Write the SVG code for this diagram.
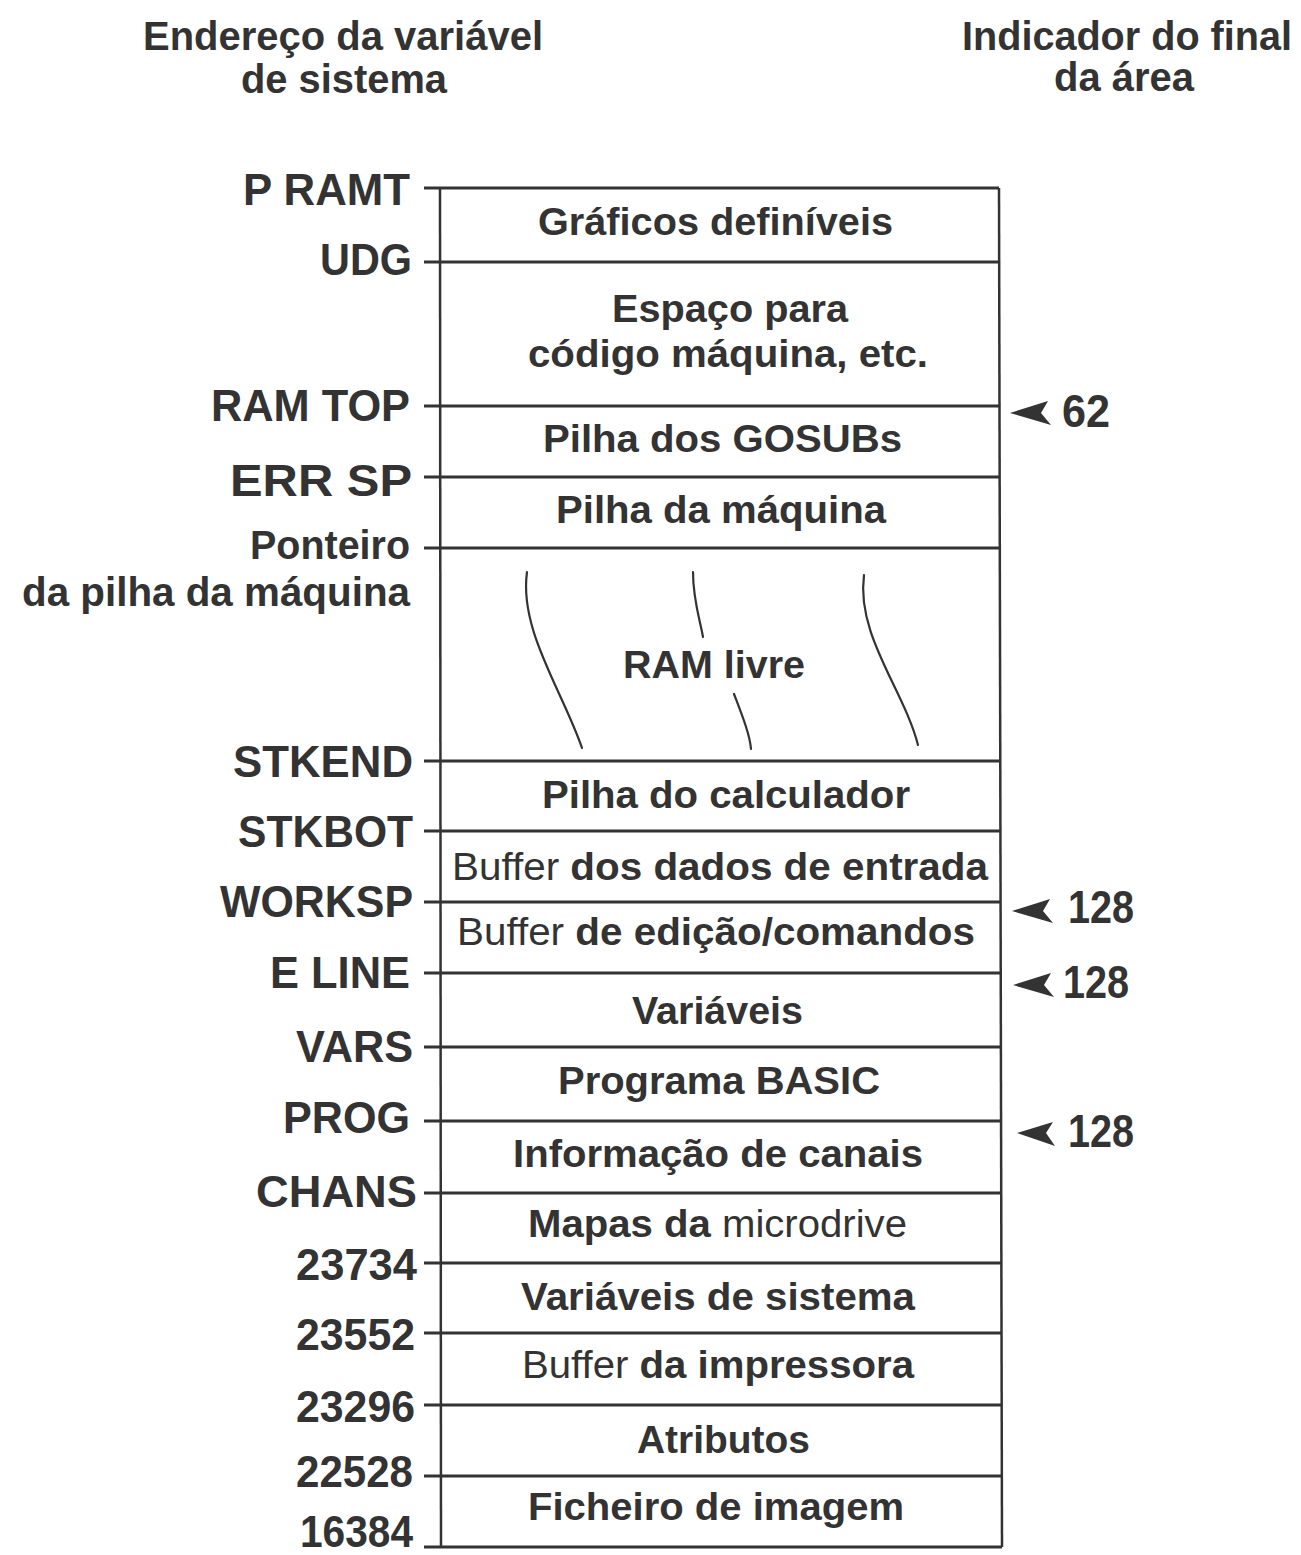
<svg xmlns="http://www.w3.org/2000/svg" width="1301" height="1555" viewBox="0 0 1301 1555">
<style>
  text { font-family: "Liberation Sans", Arial, sans-serif; fill: #333; font-weight: bold; }
  .hdr { font-size: 40px; }
  .lbl { font-size: 45px; }
  .sub { font-size: 41px; }
  .box { font-size: 38px; }
  .reg { font-weight: normal; }
  .num { font-size: 46px; }
  .hl { stroke: #333; stroke-width: 3; fill: none; }
  .vl { stroke: #333; stroke-width: 2.5; fill: none; }
  .wave { stroke: #333; stroke-width: 2.2; fill: none; stroke-linecap: round; }
  .arr { fill: #333; }
</style>
<defs>
  <path id="ah" d="M0,0 L38,-12 L31,0 L41,12 Z"/>
  <path id="ah2" d="M0,0 L36,-11 L29,0 L38,13 Z"/>
</defs>
<rect width="1301" height="1555" fill="#fff"/>

<g id="headers">
  <text class="hdr" x="143" y="50" textLength="400" lengthAdjust="spacingAndGlyphs">Endereço da variável</text>
  <text class="hdr" x="241" y="93" textLength="206" lengthAdjust="spacingAndGlyphs">de sistema</text>
  <text class="hdr" x="962" y="50" textLength="330" lengthAdjust="spacingAndGlyphs">Indicador do final</text>
  <text class="hdr" x="1054" y="91" textLength="140" lengthAdjust="spacingAndGlyphs">da área</text>
</g>

<g id="frame">
  <line class="vl" x1="440" y1="188" x2="441" y2="1547"/>
  <line class="vl" x1="999" y1="188" x2="1002" y2="1547"/>
</g>

<g id="dividers">
  <line class="hl" x1="424" y1="188" x2="999" y2="188"/>
  <line class="hl" x1="424" y1="262" x2="999" y2="262"/>
  <line class="hl" x1="424" y1="406" x2="1000" y2="406"/>
  <line class="hl" x1="424" y1="477" x2="1000" y2="477"/>
  <line class="hl" x1="424" y1="548" x2="1000" y2="548"/>
  <line class="hl" x1="424" y1="761" x2="1000" y2="761"/>
  <line class="hl" x1="424" y1="831" x2="1000" y2="831"/>
  <line class="hl" x1="424" y1="902" x2="1001" y2="902"/>
  <line class="hl" x1="424" y1="973" x2="1001" y2="973"/>
  <line class="hl" x1="424" y1="1047" x2="1001" y2="1047"/>
  <line class="hl" x1="424" y1="1121" x2="1001" y2="1121"/>
  <line class="hl" x1="424" y1="1193" x2="1001" y2="1193"/>
  <line class="hl" x1="424" y1="1263" x2="1002" y2="1263"/>
  <line class="hl" x1="424" y1="1333" x2="1002" y2="1333"/>
  <line class="hl" x1="424" y1="1405" x2="1002" y2="1405"/>
  <line class="hl" x1="424" y1="1476" x2="1002" y2="1476"/>
  <line class="hl" x1="424" y1="1547" x2="1002" y2="1547"/>
</g>

<g id="address-labels">
  <text class="lbl" x="243" y="205" textLength="167" lengthAdjust="spacingAndGlyphs">P RAMT</text>
  <text class="lbl" x="320" y="275" textLength="92" lengthAdjust="spacingAndGlyphs">UDG</text>
  <text class="lbl" x="211" y="421" textLength="199" lengthAdjust="spacingAndGlyphs">RAM TOP</text>
  <text class="lbl" x="230" y="496" textLength="182" lengthAdjust="spacingAndGlyphs">ERR SP</text>
  <text class="sub" x="250" y="559" textLength="160" lengthAdjust="spacingAndGlyphs">Ponteiro</text>
  <text class="sub" x="22" y="606" textLength="388" lengthAdjust="spacingAndGlyphs">da pilha da máquina</text>
  <text class="lbl" x="233" y="777" textLength="180" lengthAdjust="spacingAndGlyphs">STKEND</text>
  <text class="lbl" x="238" y="847" textLength="175" lengthAdjust="spacingAndGlyphs">STKBOT</text>
  <text class="lbl" x="220" y="917" textLength="193" lengthAdjust="spacingAndGlyphs">WORKSP</text>
  <text class="lbl" x="270" y="988" textLength="140" lengthAdjust="spacingAndGlyphs">E LINE</text>
  <text class="lbl" x="296" y="1062" textLength="117" lengthAdjust="spacingAndGlyphs">VARS</text>
  <text class="lbl" x="283" y="1133" textLength="127" lengthAdjust="spacingAndGlyphs">PROG</text>
  <text class="lbl" x="256" y="1207" textLength="161" lengthAdjust="spacingAndGlyphs">CHANS</text>
  <text class="lbl" x="296" y="1280" textLength="121" lengthAdjust="spacingAndGlyphs">23734</text>
  <text class="lbl" x="296" y="1350" textLength="119" lengthAdjust="spacingAndGlyphs">23552</text>
  <text class="lbl" x="296" y="1422" textLength="119" lengthAdjust="spacingAndGlyphs">23296</text>
  <text class="lbl" x="296" y="1487" textLength="117" lengthAdjust="spacingAndGlyphs">22528</text>
  <text class="lbl" x="300" y="1547" textLength="113" lengthAdjust="spacingAndGlyphs">16384</text>
</g>

<g id="area-udg"><text class="box" x="538" y="235" textLength="355" lengthAdjust="spacingAndGlyphs">Gráficos definíveis</text></g>
<g id="area-mcode">
  <text class="box" x="612" y="322" textLength="236" lengthAdjust="spacingAndGlyphs">Espaço para</text>
  <text class="box" x="528" y="367" textLength="400" lengthAdjust="spacingAndGlyphs">código máquina, etc.</text>
</g>
<g id="area-gosub"><text class="box" x="543" y="452" textLength="359" lengthAdjust="spacingAndGlyphs">Pilha dos GOSUBs</text></g>
<g id="area-mstack"><text class="box" x="556" y="523" textLength="330" lengthAdjust="spacingAndGlyphs">Pilha da máquina</text></g>
<g id="area-free">
  <text class="box" x="623" y="678" textLength="182" lengthAdjust="spacingAndGlyphs">RAM livre</text>
  <path class="wave" d="M527,572 C519,630 562,690 582,748"/>
  <path class="wave" d="M693,572 C693,600 700,620 703,637"/>
  <path class="wave" d="M734,694 C742,715 750,735 751,749"/>
  <path class="wave" d="M864,575 C856,635 904,690 918,745"/>
</g>
<g id="area-calc"><text class="box" x="542" y="808" textLength="368" lengthAdjust="spacingAndGlyphs">Pilha do calculador</text></g>
<g id="area-input"><text class="box" x="452" y="880" textLength="536" lengthAdjust="spacingAndGlyphs"><tspan class="reg">Buffer</tspan> dos dados de entrada</text></g>
<g id="area-edit"><text class="box" x="457" y="945" textLength="518" lengthAdjust="spacingAndGlyphs"><tspan class="reg">Buffer</tspan> de edição/comandos</text></g>
<g id="area-vars"><text class="box" x="632" y="1024" textLength="171" lengthAdjust="spacingAndGlyphs">Variáveis</text></g>
<g id="area-prog"><text class="box" x="558" y="1094" textLength="322" lengthAdjust="spacingAndGlyphs">Programa BASIC</text></g>
<g id="area-chans"><text class="box" x="513" y="1167" textLength="410" lengthAdjust="spacingAndGlyphs">Informação de canais</text></g>
<g id="area-maps"><text class="box" x="528" y="1237" textLength="379" lengthAdjust="spacingAndGlyphs">Mapas da <tspan class="reg">microdrive</tspan></text></g>
<g id="area-sysvars"><text class="box" x="521" y="1310" textLength="394" lengthAdjust="spacingAndGlyphs">Variáveis de sistema</text></g>
<g id="area-printer"><text class="box" x="522" y="1378" textLength="392" lengthAdjust="spacingAndGlyphs"><tspan class="reg">Buffer</tspan> da impressora</text></g>
<g id="area-attr"><text class="box" x="637" y="1453" textLength="173" lengthAdjust="spacingAndGlyphs">Atributos</text></g>
<g id="area-screen"><text class="box" x="528" y="1520" textLength="376" lengthAdjust="spacingAndGlyphs">Ficheiro de imagem</text></g>

<g id="connectors">
  <use href="#ah" class="arr" x="1010" y="413"/>
  <use href="#ah" class="arr" x="1012" y="911"/>
  <use href="#ah" class="arr" x="1013" y="985"/>
  <use href="#ah2" class="arr" x="1017" y="1133"/>
</g>
<g id="end-markers">
  <text class="num" x="1062" y="427" textLength="48" lengthAdjust="spacingAndGlyphs">62</text>
  <text class="num" x="1068" y="923" textLength="66" lengthAdjust="spacingAndGlyphs">128</text>
  <text class="num" x="1063" y="998" textLength="66" lengthAdjust="spacingAndGlyphs">128</text>
  <text class="num" x="1068" y="1147" textLength="66" lengthAdjust="spacingAndGlyphs">128</text>
</g>
</svg>
